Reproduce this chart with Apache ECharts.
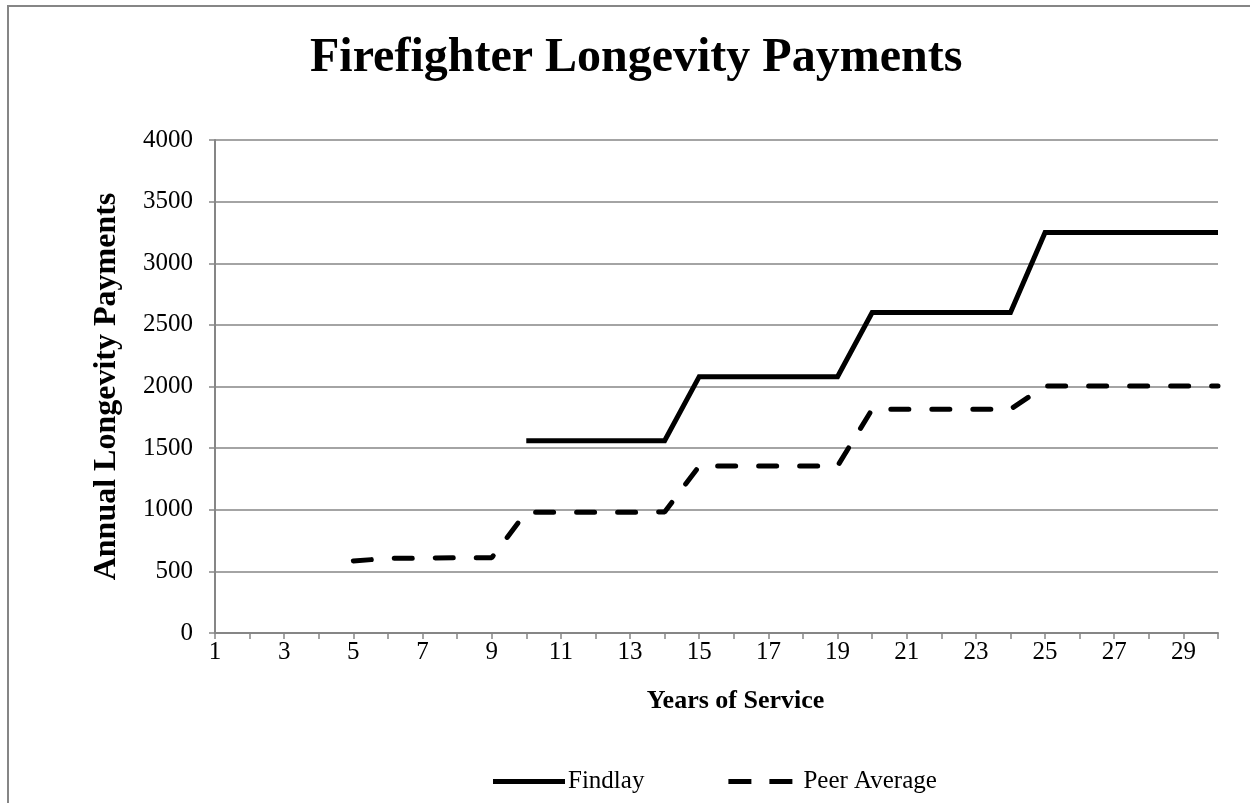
<!DOCTYPE html>
<html>
<head>
<meta charset="utf-8">
<script src="https://cdn.jsdelivr.net/npm/echarts@6/dist/echarts.min.js"></script>
<style>
  html, body { margin: 0; padding: 0; background: #fff; overflow: hidden; }
  #frame {
    position: absolute; left: 7px; top: 5px; width: 1400px; height: 1000px;
    border: 2px solid #868686; box-sizing: border-box;
  }
  #chart { position: absolute; left: 0; top: 0; width: 1250px; height: 803px; }
</style>
</head>
<body>
<div id="frame"></div>
<div id="chart"></div>
<script>
const years = Array.from({ length: 30 }, (_, i) => String(i + 1))
const findlay = [null, null, null, null, null, null, null, null, null,
  1560, 1560, 1560, 1560, 1560,
  2080, 2080, 2080, 2080, 2080,
  2600, 2600, 2600, 2600, 2600,
  3250, 3250, 3250, 3250, 3250, 3250]
const peerAverage = [null, null, null, null,
  585, 605, 608, 610, 610,
  980, 980, 980, 980, 982,
  1355, 1355, 1355, 1355, 1355,
  1815, 1815, 1815, 1815, 1815,
  2005, 2005, 2005, 2005, 2005, 2005]

const font = '"Liberation Serif", "Times New Roman", serif'
const axisGray = '#868686'

// legend icons: plain bar for the solid line, two bars for the dashed one
const solidIcon = 'path://M0,0 L72,0 L72,5 L0,5 Z'
const dashIcon = 'path://M0,0 L23,0 L23,5 L0,5 Z M41,0 L64,0 L64,5 L41,5 Z M72,0 L72,5 Z'

const chart = echarts.init(document.getElementById('chart'))
chart.setOption({
  backgroundColor: 'transparent',
  animation: false,
  textStyle: { fontFamily: font, color: '#000' },
  title: {
    text: 'Firefighter Longevity Payments',
    left: 305,
    top: 30,
    textStyle: { fontFamily: font, fontSize: 48, fontWeight: 'bold', color: '#000' },
  },
  grid: { left: 215, right: 32, top: 140, bottom: 170 },
  legend: {
    bottom: 4,
    left: 488,
    itemWidth: 72,
    itemHeight: 5,
    itemGap: 84,
    textStyle: { fontFamily: font, fontSize: 25, color: '#000', padding: [0, 0, 0, -2] },
    data: [
      { name: 'Findlay', icon: solidIcon, itemStyle: { color: '#000' } },
      { name: 'Peer Average', icon: dashIcon, itemStyle: { color: '#000' } },
    ],
  },
  xAxis: {
    type: 'category',
    data: years,
    boundaryGap: false,
    name: 'Years of Service',
    nameLocation: 'middle',
    nameGap: 55,
    nameTextStyle: { fontFamily: font, fontSize: 26, fontWeight: 'bold', color: '#000', padding: [0, 0, 0, 38] },
    axisLine: { lineStyle: { color: axisGray, width: 2 } },
    axisTick: { show: true, interval: 0, length: 6, lineStyle: { color: axisGray, width: 1.5 } },
    axisLabel: { interval: 1, color: '#000', fontFamily: font, fontSize: 25, margin: 7 },
    splitLine: { show: false },
  },
  yAxis: {
    type: 'value',
    min: 0,
    max: 4000,
    interval: 500,
    name: 'Annual Longevity Payments',
    nameLocation: 'middle',
    nameGap: 92,
    nameTextStyle: { fontFamily: font, fontSize: 32, fontWeight: 'bold', color: '#000' },
    axisLine: { show: true, lineStyle: { color: axisGray, width: 2 } },
    axisTick: { show: true, length: 6, lineStyle: { color: axisGray, width: 1.5 } },
    axisLabel: { color: '#000', fontFamily: font, fontSize: 25, margin: 22, formatter: (v) => String(v) },
    splitLine: { lineStyle: { color: axisGray, width: 1.5 } },
  },
  series: [
    {
      name: 'Findlay',
      type: 'line',
      data: findlay,
      symbol: 'none',
      connectNulls: false,
      lineStyle: { color: '#000', width: 5, join: 'miter' },
      itemStyle: { color: '#000' },
    },
    {
      name: 'Peer Average',
      type: 'line',
      data: peerAverage,
      symbol: 'none',
      lineStyle: { color: '#000', width: 5, type: [18, 23], cap: 'round' },
      itemStyle: { color: '#000' },
    },
  ],
})
</script>
</body>
</html>
